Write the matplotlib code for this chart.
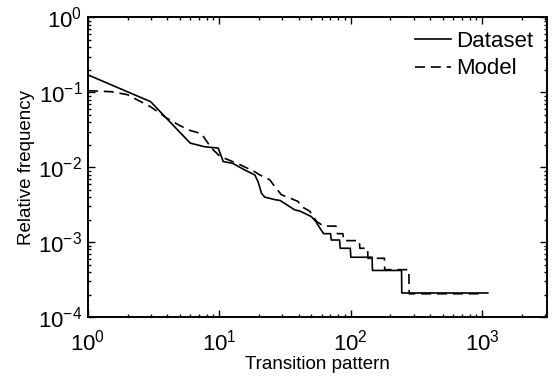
import matplotlib
matplotlib.use("Agg")
import matplotlib.pyplot as plt
from matplotlib.ticker import LogLocator, NullFormatter

plt.rcParams['font.family'] = ['Liberation Sans', 'DejaVu Sans']
plt.rcParams['mathtext.fontset'] = 'custom'
plt.rcParams['mathtext.rm'] = 'Liberation Sans'
plt.rcParams['mathtext.it'] = 'Liberation Sans:italic'
plt.rcParams['mathtext.bf'] = 'Liberation Sans:bold'

# Rank / relative frequency of transition patterns
dataset_rank = [1, 3, 6, 7.7, 9.8, 10.7, 12.6, 15.6, 18.6, 19.7, 20.9, 22.1,
                26.4, 29, 37.4, 41, 50, 54, 58, 62, 70, 71, 82, 83, 99, 100,
                145, 146, 243, 244, 1100]
dataset_freq = [0.171, 0.075, 0.021, 0.0188, 0.018, 0.0119, 0.0113, 0.0092,
                0.0079, 0.0064, 0.0045, 0.0040, 0.0037, 0.0036, 0.0027, 0.0026,
                0.0022, 0.0019, 0.00155, 0.0013, 0.0013, 0.00107, 0.00107,
                0.00083, 0.00083, 0.00063, 0.00063, 0.00042, 0.00042,
                0.00021, 0.00021]

model_rank = [1, 1.5, 2, 3, 4, 5, 6, 7.3, 8.7, 10.1, 12.6, 13.1, 18.6, 20.3,
              24.2, 26.4, 29.6, 33, 39.6, 42, 48.6, 54.7, 62, 77, 79, 87, 88,
              116, 117, 134, 135, 180, 181, 276, 278, 950]
model_freq = [0.105, 0.102, 0.093, 0.064, 0.045, 0.036, 0.031, 0.028, 0.018,
              0.014, 0.0119, 0.0117, 0.0087, 0.0079, 0.0068, 0.0055, 0.0043,
              0.0040, 0.0035, 0.0030, 0.0026, 0.0019, 0.00164, 0.00164,
              0.0013, 0.0013, 0.00105, 0.00105, 0.00083, 0.00083, 0.00061,
              0.00061, 0.00043, 0.00043, 0.000205, 0.000205]

x_limits = (1, 3100)
y_limits = (1e-4, 1)

fig = plt.figure(figsize=(5.53, 3.78), dpi=100)
ax = fig.add_axes([0.159, 0.161, 0.830, 0.793])

ax.loglog(dataset_rank, dataset_freq, color='black', lw=1.2, ls='-',
          label='Dataset')
ax.loglog(model_rank, model_freq, color='black', lw=1.2, ls=(0, (6, 3.5)),
          label='Model')

ax.set_xlim(*x_limits)
ax.set_ylim(*y_limits)

ax.xaxis.set_major_locator(LogLocator(base=10, numticks=10))
ax.yaxis.set_major_locator(LogLocator(base=10, numticks=10))
ax.xaxis.set_minor_locator(LogLocator(base=10, subs=range(2, 10), numticks=20))
ax.yaxis.set_minor_locator(LogLocator(base=10, subs=range(2, 10), numticks=20))
ax.xaxis.set_minor_formatter(NullFormatter())
ax.yaxis.set_minor_formatter(NullFormatter())

ax.tick_params(which='both', direction='in', top=True, right=True,
               labelsize=16, width=1.0)
ax.tick_params(which='major', length=5)
ax.tick_params(which='minor', length=2.5)
ax.tick_params(axis='x', which='major', pad=9)
ax.tick_params(axis='y', which='major', pad=4)
for sp in ax.spines.values():
    sp.set_linewidth(1.4)

ax.set_xlabel('Transition pattern', fontsize=13.5, labelpad=0)
ax.set_ylabel('Relative frequency', fontsize=13.5, labelpad=2)

ax.legend(loc='upper right', frameon=False, fontsize=16,
          handlelength=1.6, handletextpad=0.25, borderaxespad=0.3,
          borderpad=0.3, labelspacing=0.3)

fig.savefig('out.png', dpi=100)
